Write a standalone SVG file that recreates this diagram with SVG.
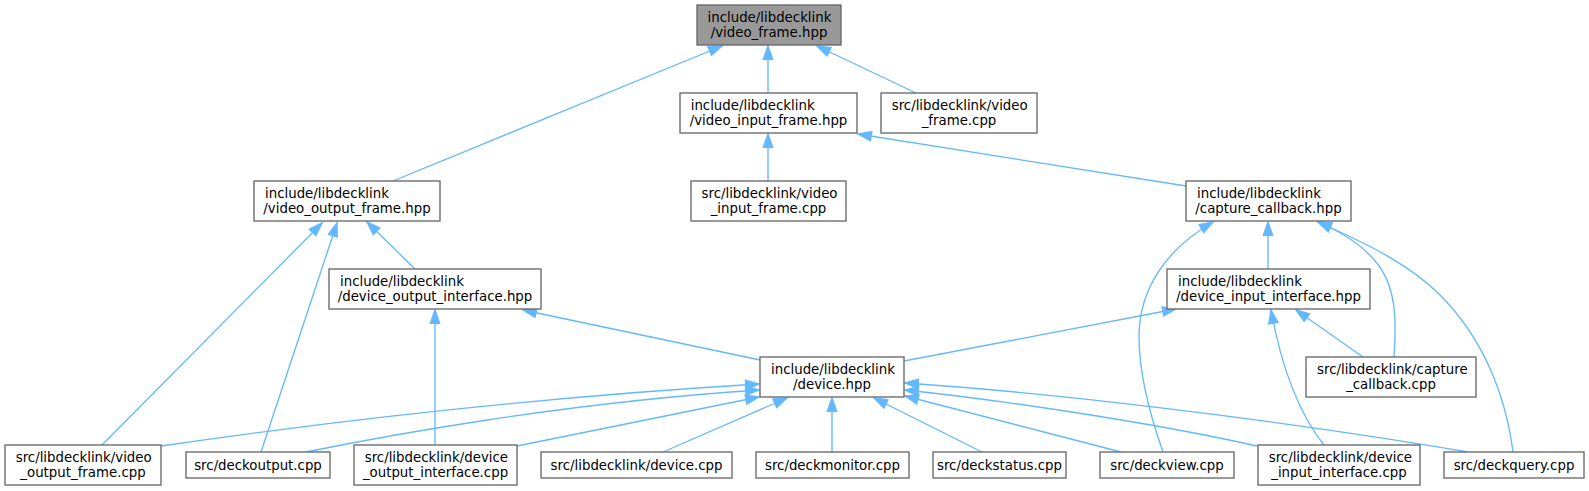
<svg xmlns="http://www.w3.org/2000/svg" width="1589" height="491" viewBox="0 0 1589 491">
<style>
.node rect{fill:#ffffff;stroke:#666666;stroke-width:1.33}
.node.root rect{fill:#999999}
.node text{font-family:"DejaVu Sans","Liberation Sans",sans-serif;font-size:13.33px;fill:#000000}
.node text.s{text-anchor:start}
.node text.m{text-anchor:middle}
.edges path{fill:none;stroke:#63b8ff;stroke-width:1.33;marker-end:url(#ah)}
</style>
<defs>
<marker id="ah" markerUnits="userSpaceOnUse" viewBox="-1 -1 16 12" markerWidth="16" markerHeight="12" refX="13.3" refY="4.67" orient="auto">
<path d="M0,0 L13.3,4.67 L0,9.33 z" fill="#63b8ff" stroke="#63b8ff" stroke-width="1.33"/>
</marker>
</defs>
<rect x="0" y="0" width="1589" height="491" fill="#ffffff"/>
<g class="edges">
<path d="M393,181 L722,46"/>
<path d="M768,93 L768,46"/>
<path d="M916,93 L817,46"/>
<path d="M768,181 L768,134"/>
<path d="M1186,186 L858,134"/>
<path d="M102,445 L322,223"/>
<path d="M261,452 L337,223"/>
<path d="M415,269 L367,222"/>
<path d="M760,360 L523,310"/>
<path d="M435,445 L435,310"/>
<path d="M1268,269 L1268,222"/>
<path d="M1163,452 C1150,415 1139,375 1139,337 C1139,290 1165,250 1213,222"/>
<path d="M1394,357 C1398,295 1395,255 1318,222"/>
<path d="M1513,452 C1505,390 1480,335 1440,295 C1410,265 1370,245 1318,222"/>
<path d="M904,361 L1176,309"/>
<path d="M1324,445 C1300,415 1282,370 1271,310"/>
<path d="M1363,357 L1296,310"/>
<path d="M161,446 C361,417 559,396 759,384"/>
<path d="M306,452 C380,437 560,403 759,390"/>
<path d="M517,446 L759,397"/>
<path d="M663,452 L787,398"/>
<path d="M832,452 L832,398"/>
<path d="M982,452 L874,398"/>
<path d="M1121,452 L905,396"/>
<path d="M1257,446 C1150,422 1000,400 905,390"/>
<path d="M1468,452 C1340,430 1100,396 905,383"/>
</g>
<g id="n0" class="node root"><rect x="697" y="5" width="144" height="40"/><text class="s" x="707.5" y="22">include/libdecklink</text><text class="m" x="769" y="36.7">/video_frame.hpp</text></g>
<g id="n1" class="node"><rect x="680" y="93" width="177" height="40"/><text class="s" x="690.7" y="110">include/libdecklink</text><text class="m" x="768.5" y="124.7">/video_input_frame.hpp</text></g>
<g id="n2" class="node"><rect x="881" y="93" width="156" height="40"/><text class="s" x="891.7" y="110">src/libdecklink/video</text><text class="m" x="959" y="124.7">_frame.cpp</text></g>
<g id="n3" class="node"><rect x="254" y="181" width="186" height="40"/><text class="s" x="265" y="198">include/libdecklink</text><text class="m" x="347" y="212.7">/video_output_frame.hpp</text></g>
<g id="n4" class="node"><rect x="691" y="181" width="155" height="40"/><text class="s" x="701.5" y="198">src/libdecklink/video</text><text class="m" x="768.5" y="212.7">_input_frame.cpp</text></g>
<g id="n5" class="node"><rect x="1186" y="181" width="165" height="40"/><text class="s" x="1197" y="198">include/libdecklink</text><text class="m" x="1268.5" y="212.7">/capture_callback.hpp</text></g>
<g id="n6" class="node"><rect x="329" y="269" width="212" height="40"/><text class="s" x="340" y="286">include/libdecklink</text><text class="m" x="435" y="300.7">/device_output_interface.hpp</text></g>
<g id="n7" class="node"><rect x="1167" y="269" width="203" height="40"/><text class="s" x="1178" y="286">include/libdecklink</text><text class="m" x="1268.5" y="300.7">/device_input_interface.hpp</text></g>
<g id="n8" class="node"><rect x="760" y="357" width="144" height="40"/><text class="s" x="771" y="374">include/libdecklink</text><text class="m" x="832" y="388.7">/device.hpp</text></g>
<g id="n9" class="node"><rect x="1306" y="357" width="170" height="40"/><text class="s" x="1317" y="374">src/libdecklink/capture</text><text class="m" x="1391" y="388.7">_callback.cpp</text></g>
<g id="n10" class="node"><rect x="5" y="445" width="156" height="40"/><text class="s" x="15.7" y="462">src/libdecklink/video</text><text class="m" x="83" y="476.7">_output_frame.cpp</text></g>
<g id="n11" class="node"><rect x="186" y="452" width="144" height="26"/><text class="m" x="258" y="469.5">src/deckoutput.cpp</text></g>
<g id="n12" class="node"><rect x="354" y="445" width="163" height="40"/><text class="s" x="364.7" y="462">src/libdecklink/device</text><text class="m" x="435.5" y="476.7">_output_interface.cpp</text></g>
<g id="n13" class="node"><rect x="541" y="452" width="191" height="26"/><text class="m" x="636.5" y="469.5">src/libdecklink/device.cpp</text></g>
<g id="n14" class="node"><rect x="756" y="452" width="153" height="26"/><text class="m" x="832.5" y="469.5">src/deckmonitor.cpp</text></g>
<g id="n15" class="node"><rect x="933" y="452" width="133" height="26"/><text class="m" x="999.5" y="469.5">src/deckstatus.cpp</text></g>
<g id="n16" class="node"><rect x="1100" y="452" width="134" height="26"/><text class="m" x="1167" y="469.5">src/deckview.cpp</text></g>
<g id="n17" class="node"><rect x="1258" y="445" width="162" height="40"/><text class="s" x="1268.7" y="462">src/libdecklink/device</text><text class="m" x="1339" y="476.7">_input_interface.cpp</text></g>
<g id="n18" class="node"><rect x="1444" y="452" width="140" height="26"/><text class="m" x="1514" y="469.5">src/deckquery.cpp</text></g>
</svg>
